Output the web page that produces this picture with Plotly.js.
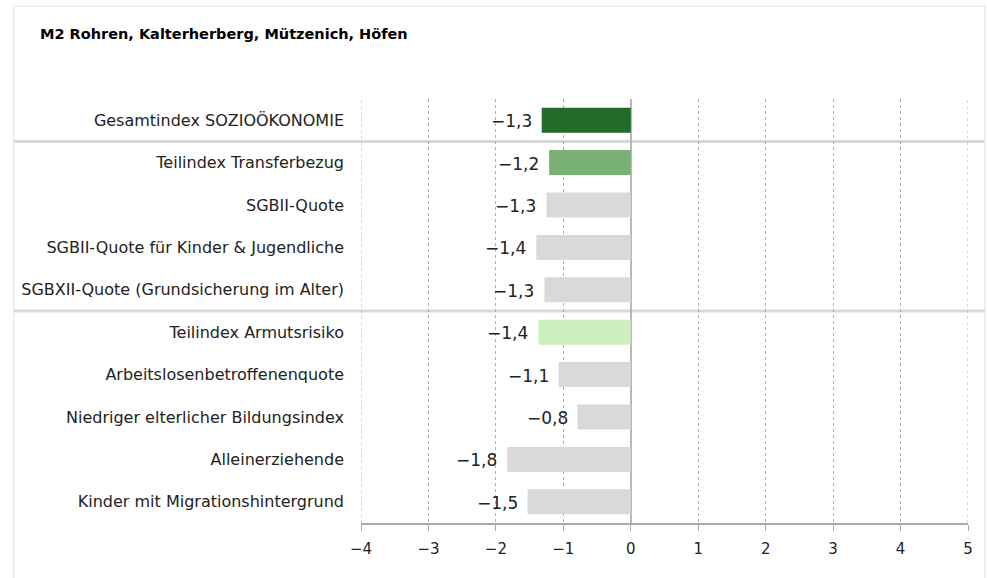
<!DOCTYPE html>
<html>
<head>
<meta charset="utf-8">
<script src="https://cdn.plot.ly/plotly-3.0.1.min.js"></script>
<style>
  html, body { margin: 0; padding: 0; background: #fff; }
  #chart { width: 987px; height: 578px; }
</style>
</head>
<body>
<div id="chart"></div>
<script>
const categories = [
  'Gesamtindex SOZIOÖKONOMIE',
  'Teilindex Transferbezug',
  'SGBII-Quote',
  'SGBII-Quote für Kinder & Jugendliche',
  'SGBXII-Quote (Grundsicherung im Alter)',
  'Teilindex Armutsrisiko',
  'Arbeitslosenbetroffenenquote',
  'Niedriger elterlicher Bildungsindex',
  'Alleinerziehende',
  'Kinder mit Migrationshintergrund'
];
const values = [-1.32, -1.21, -1.25, -1.40, -1.28, -1.37, -1.07, -0.79, -1.83, -1.53];
const barColors = ['#236b2a', '#79b174', '#d9d9d9', '#d9d9d9', '#d9d9d9',
                   '#cdeebd', '#d9d9d9', '#d9d9d9', '#d9d9d9', '#d9d9d9'];
const xTicks = [-4, -3, -2, -1, 0, 1, 2, 3, 4, 5];
// separators sit between these category indices
const separators = [0.5, 4.5];

const fmt = v => v.toFixed(1).replace('.', ',').replace('-', '\u2212');

const trace = {
  type: 'bar',
  orientation: 'h',
  y: categories.map((c, i) => i),
  x: values,
  width: 0.59,
  marker: { color: barColors, line: { width: 0 } },
  hoverinfo: 'skip'
};

// value labels left of the bar ends
const annotations = values.map((v, i) => ({
  x: v, y: i, xref: 'x', yref: 'y',
  text: fmt(v),
  showarrow: false,
  xanchor: 'right',
  yanchor: 'middle',
  xshift: -8,
  yshift: -1,
  font: { family: 'DejaVu Sans', size: 17, color: '#222' }
}));

const shapes = separators.map(s => ({
  type: 'line', xref: 'paper', yref: 'y',
  x0: -0.572, x1: 1.028, y0: s, y1: s,
  line: { color: '#d9d9d9', width: 3 },
  layer: 'below'
}));
// plotly drops the gridlines on the range ends, so draw those two here
[xTicks[0], xTicks[xTicks.length - 1]].forEach(t => shapes.push({
  type: 'line', xref: 'x', yref: 'paper',
  x0: t, x1: t, y0: 0, y1: 1,
  line: { color: '#b0b0b0', width: 1, dash: 'dot' },
  layer: 'below'
}));
shapes.push({
  type: 'rect', xref: 'paper', yref: 'paper',
  x0: -0.572, x1: 1.028, y0: -0.3, y1: 1.219,
  line: { color: '#e3e3e3', width: 1 },
  layer: 'below'
});

const layout = {
  width: 987,
  height: 578,
  margin: { l: 361, r: 19, t: 99, b: 55 },
  paper_bgcolor: '#fff',
  plot_bgcolor: '#fff',
  showlegend: false,
  font: { family: 'DejaVu Sans', color: '#222' },
  title: {
    text: '<b>M2 Rohren, Kalterherberg, Mützenich, Höfen</b>',
    x: 40 / 987, xanchor: 'left', xref: 'container',
    y: 1 - 34 / 578, yanchor: 'middle', yref: 'container',
    font: { family: 'DejaVu Sans', size: 14.5, color: '#000' }
  },
  xaxis: {
    range: [-4, 5],
    tickvals: xTicks,
    showgrid: true,
    gridcolor: '#b0b0b0',
    griddash: 'dot',
    gridwidth: 1,
    zeroline: true,
    zerolinecolor: '#b8b8b8',
    zerolinewidth: 1.5,
    showline: true,
    linecolor: '#aaa',
    linewidth: 1.5,
    ticks: 'outside',
    ticklen: 6,
    tickcolor: '#aaa',
    ticklabelstandoff: 5,
    tickfont: { family: 'DejaVu Sans', size: 15, color: '#222' },
    fixedrange: true
  },
  yaxis: {
    tickvals: categories.map((c, i) => i),
    ticktext: categories,
    range: [9.5, -0.5],
    showgrid: false,
    zeroline: false,
    showline: false,
    ticks: '',
    ticklabelstandoff: 16,
    tickfont: { family: 'DejaVu Sans', size: 16, color: '#222' },
    fixedrange: true
  },
  shapes: shapes,
  annotations: annotations,
  bargap: 0.4
};

Plotly.newPlot('chart', [trace], layout, { displayModeBar: false, staticPlot: true });
</script>
</body>
</html>
